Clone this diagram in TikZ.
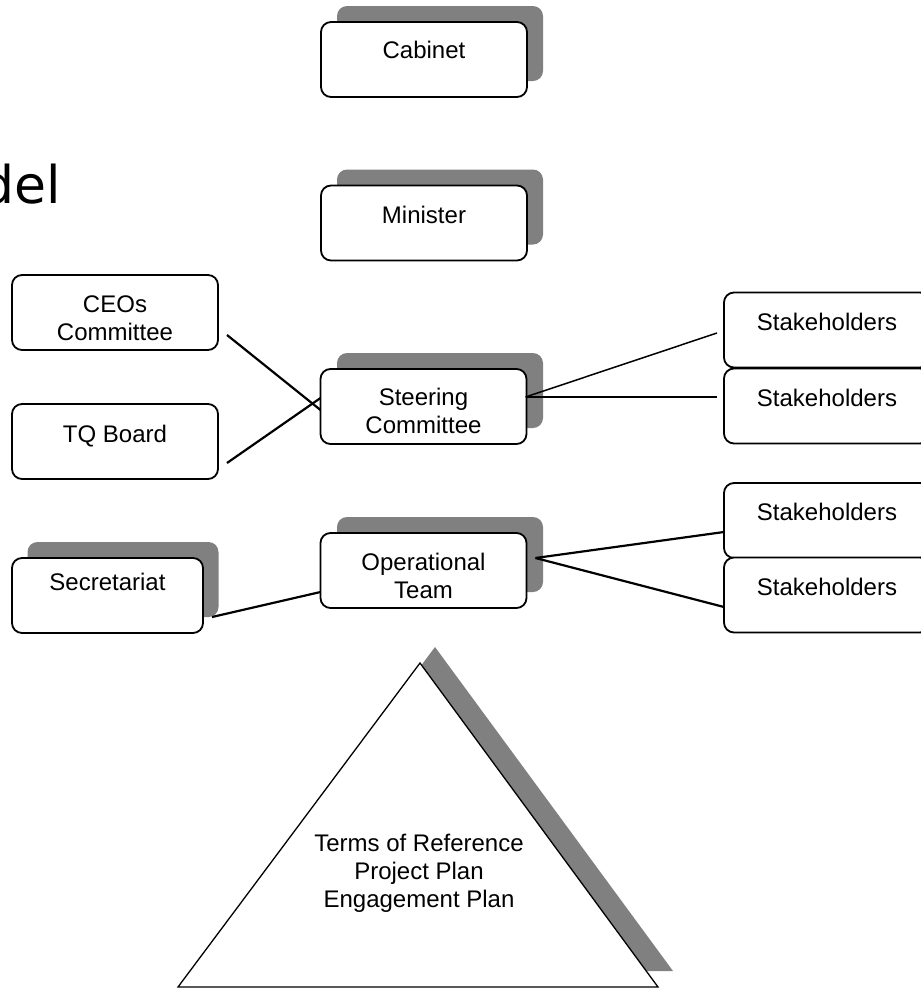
\documentclass[tikz,border=0pt]{standalone}
\usepackage{fontspec}
\setmainfont{Liberation Sans}
\newfontfamily\titlefont{DejaVu Sans}
\definecolor{shadowgrey}{RGB}{128,128,128}
\begin{document}
\begin{tikzpicture}[x=1pt,y=-1pt,
  box/.style={draw=black, line width=1.8pt, rounded corners=10pt, fill=white,
    minimum width=206pt, minimum height=75pt, inner sep=0pt, outer sep=0pt},
  shadowbox/.style={fill=shadowgrey, rounded corners=10pt,
    minimum width=206pt, minimum height=75pt, inner sep=0pt, outer sep=0pt},
  lbl/.style={font=\fontsize{24}{28}\selectfont, inner sep=0pt, anchor=base, align=center},
  conn/.style={draw=black, line width=2.2pt},
  thinconn/.style={draw=black, line width=1.5pt},
]
\useasboundingbox (0,0) rectangle (921,989);

% title fragment
\node[font=\titlefont\fontsize{52}{60}\selectfont, anchor=base east, inner sep=0pt] (title) at (61,203) {del};

% shadows
\node[shadowbox] (cabS) at (440,43.5) {};
\node[shadowbox] (minS) at (440,207) {};
\node[shadowbox] (steerS) at (440,390.5) {};
\node[shadowbox] (opS) at (440,554.5) {};
\node[shadowbox, minimum width=191pt] (secS) at (123,579.5) {};

% boxes
\node[box] (cab) at (424,59.5) {};
\node[box] (min) at (424,223) {};
\node[box] (ceo) at (115,312.5) {};
\node[box] (tq) at (115,441.5) {};
\node[box] (steer) at (423.5,406.5) {};
\node[box] (s1) at (827,330) {};
\node[box] (s2) at (827,406) {};
\node[box] (s3) at (827,520.5) {};
\node[box] (s4) at (827,595) {};
\node[box] (op) at (423.5,570.5) {};
\node[box, minimum width=191pt] (sec) at (107.5,595.5) {};

% connectors
\draw[conn] ([shift={(9,22.5)}]ceo.east) -- ([shift={(0,3.5)}]steer.west);
\draw[conn] ([shift={(9,21.5)}]tq.east) -- ([shift={(0,-8.5)}]steer.west);
\draw[thinconn] ([shift={(-1,-9.5)}]steer.east) -- ([shift={(-7,3)}]s1.west);
\draw[thinconn] ([shift={(-1,-9.5)}]steer.east) -- ([shift={(-7,-9)}]s2.west);
\draw[conn] ([shift={(9,-12.5)}]op.east) -- ([shift={(0,11.5)}]s3.west);
\draw[conn] ([shift={(9,-12.5)}]op.east) -- ([shift={(0,12)}]s4.west);
\draw[conn] ([shift={(9,21.5)}]sec.east) -- ([shift={(0,21.5)}]op.west);

% labels (multi-line labels are placed at the baseline of their last line)
\node[lbl] (cabT) at (424,58) {Cabinet};
\node[lbl] (minT) at (424,223) {Minister};
\node[lbl] (ceoT) at (115,340) {CEOs\\Committee};
\node[lbl] (tqT) at (115,442) {TQ Board};
\node[lbl] (steerT) at (423.5,433) {Steering\\Committee};
\node[lbl] (s1T) at (827,330) {Stakeholders};
\node[lbl] (s2T) at (827,406) {Stakeholders};
\node[lbl] (s3T) at (827,520) {Stakeholders};
\node[lbl] (s4T) at (827,595) {Stakeholders};
\node[lbl] (opT) at (423.5,598) {Operational\\Team};
\node[lbl] (secT) at (107.5,590) {Secretariat};

% triangle
\fill[shadowgrey] (435,647) -- (193,971) -- (673,971) -- cycle;
\draw[fill=white, line width=1.3pt] (420,663) -- (178,987) -- (658,987) -- cycle;
\node[lbl] (triT) at (419,907) {Terms of Reference\\Project Plan\\Engagement Plan};
\end{tikzpicture}
\end{document}
